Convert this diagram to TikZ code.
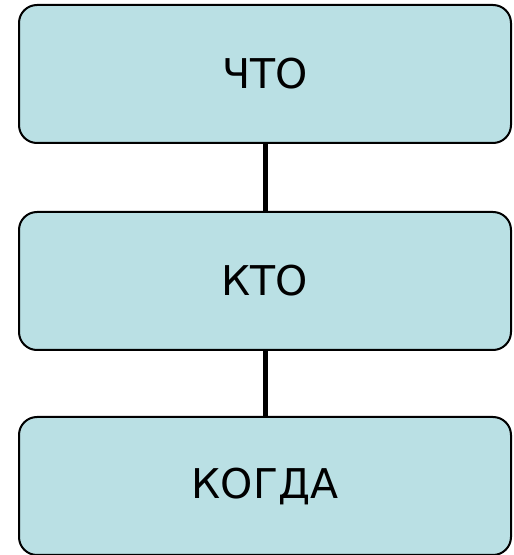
\documentclass[tikz,border=0pt]{standalone}
\usepackage{fontspec}
\setmainfont{DejaVu Sans}
\definecolor{boxfill}{RGB}{186,224,228}
\begin{document}
\begin{tikzpicture}[x=1pt,y=1pt,
  box/.style={draw=black, line width=2pt, fill=boxfill, rounded corners=18pt,
    minimum width=492pt, minimum height=138pt, inner sep=0pt,
    font=\fontsize{41}{48}\selectfont},
  link/.style={draw=black, line width=5pt}]
\useasboundingbox (0,0) rectangle (514,555);
\node[box] (a) at (265,481) {ЧТО};
\node[box] (b) at (265,274) {КТО};
\node[box] (c) at (265,69) {КОГДА};
\draw[link] (a.south) -- (b.north);
\draw[link] (b.south) -- (c.north);
\end{tikzpicture}
\end{document}
